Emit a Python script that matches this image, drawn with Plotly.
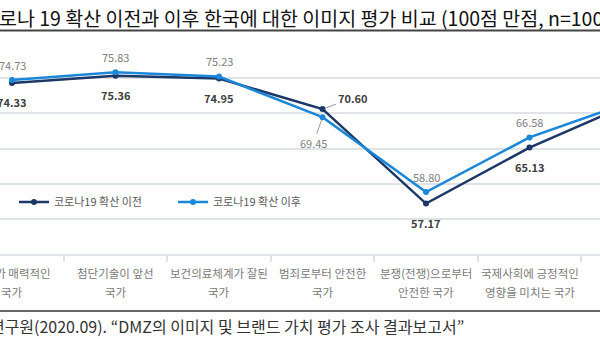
import plotly.graph_objects as go

# ---------------- data ----------------
categories_line1 = ["문화가 매력적인", "첨단기술이 앞선", "보건의료체계가 잘된", "범죄로부터 안전한",
                    "분쟁(전쟁)으로부터", "국제사회에 긍정적인", "한류 문화가 우수한"]
categories_line2 = ["국가", "국가", "국가", "국가", "안전한 국가", "영향을 미치는 국가", "국가"]
before_vals = [74.33, 75.36, 74.95, 70.60, 57.17, 65.13, 71.55]
after_vals = [74.73, 75.83, 75.23, 69.45, 58.80, 66.58, 71.75]
shown_labels = 6  # the 7th point falls outside the cropped view
series_names = ["코로나19 확산 이전", "코로나19 확산 이후"]
title_text = "코로나 19 확산 이전과 이후 한국에 대한 이미지 평가 비교 (100점 만점, n=1000)"
source_text = "자료: 경기연구원(2020.09). “DMZ의 이미지 및 브랜드 가치 평가 조사 결과보고서”"

# ---------------- style ----------------
W, H = 600, 339
M_T, M_B = 43, 85
PLOT_H = H - M_T - M_B
FONT = "Noto Sans CJK KR"
C_BEFORE = "#1c3866"
C_AFTER = "#1a87d8"
GRID = "#dfe2e7"


def py(ypx):
    """pixel row -> paper coordinate"""
    return (H - M_B - ypx) / PLOT_H


def px(xpx):
    return xpx / W


x = list(range(len(before_vals)))
fig = go.Figure()
fig.add_trace(go.Scatter(x=x, y=before_vals, name=series_names[0], mode="lines+markers",
                         line=dict(color=C_BEFORE, width=2.5),
                         marker=dict(color=C_BEFORE, size=6)))
fig.add_trace(go.Scatter(x=x, y=after_vals, name=series_names[1], mode="lines+markers",
                         line=dict(color=C_AFTER, width=2.5),
                         marker=dict(color=C_AFTER, size=6)))

ann = []
for i in range(shown_labels):
    b, a = before_vals[i], after_vals[i]
    if i == 3:
        ann.append(dict(x=i, y=b, xref="x", yref="y", text=f"<b>{b:.2f}</b>", showarrow=True,
                        ax=30, ay=-11, arrowhead=0, arrowwidth=1, arrowcolor="#9a9a9a", standoff=3,
                        font=dict(family=FONT, size=11, color="#404040")))
        ann.append(dict(x=i, y=a, xref="x", yref="y", text=f"{a:.2f}", showarrow=True,
                        ax=-9, ay=26, arrowhead=0, arrowwidth=1, arrowcolor="#9a9a9a", standoff=3,
                        font=dict(family=FONT, size=11, color="#808080")))
    else:
        ann.append(dict(x=i, y=b, xref="x", yref="y", text=f"<b>{b:.2f}</b>", showarrow=False,
                        yshift=-19, font=dict(family=FONT, size=11, color="#404040")))
        ann.append(dict(x=i, y=a, xref="x", yref="y", text=f"{a:.2f}", showarrow=False,
                        yshift=15.5, font=dict(family=FONT, size=11, color="#808080")))

for i, (l1, l2) in enumerate(zip(categories_line1, categories_line2)):
    ann.append(dict(x=i, y=py(273), xref="x", yref="paper", text=l1, showarrow=False,
                    yanchor="middle", font=dict(family=FONT, size=11.5, color="#7a7a7a")))
    ann.append(dict(x=i, y=py(292), xref="x", yref="paper", text=l2, showarrow=False,
                    yanchor="middle", font=dict(family=FONT, size=11.5, color="#7a7a7a")))

ann.append(dict(x=px(623), y=py(17), xref="paper", yref="paper", text=title_text, showarrow=False,
                xanchor="right", yanchor="middle", font=dict(family=FONT, size=19.5, color="#111111")))
ann.append(dict(x=px(466), y=py(326), xref="paper", yref="paper", text=source_text, showarrow=False,
                xanchor="right", yanchor="middle", font=dict(family=FONT, size=16, color="#333333")))

shapes = [
    dict(type="line", xref="paper", yref="paper", x0=0, x1=1, y0=py(30.5), y1=py(30.5),
         line=dict(color="#444444", width=2)),
    dict(type="line", xref="paper", yref="paper", x0=0, x1=1, y0=py(311), y1=py(311),
         line=dict(color="#333333", width=1.5)),
]

x0 = 12 / 103.5
fig.update_layout(
    width=W, height=H,
    margin=dict(l=0, r=0, t=M_T, b=M_B, pad=0),
    paper_bgcolor="white", plot_bgcolor="white",
    showlegend=True,
    legend=dict(orientation="h", x=px(14), y=py(202), xanchor="left", yanchor="middle",
                itemwidth=30, font=dict(family=FONT, size=11, color="#595959"),
                bgcolor="rgba(0,0,0,0)", tracegroupgap=0, entrywidth=114),
    annotations=ann,
    shapes=shapes,
    xaxis=dict(range=[-x0, (600 - 12) / 103.5], showgrid=False, zeroline=False,
               tickvals=[i + 0.5 for i in range(6)], showticklabels=False,
               ticks="outside", ticklen=6, tickwidth=1.5, tickcolor=GRID,
               showline=True, linecolor=GRID, linewidth=2),
    yaxis=dict(range=[50, 80], dtick=5, showgrid=True, gridcolor=GRID, gridwidth=2,
               zeroline=False, showticklabels=False, showline=False),
)

fig.write_html("out.html")
